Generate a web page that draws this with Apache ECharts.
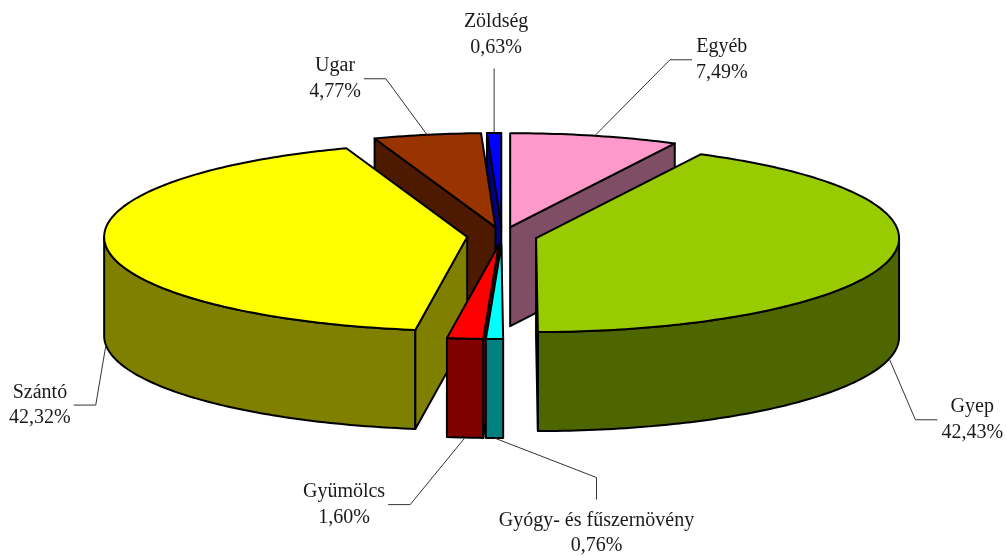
<!DOCTYPE html>
<html><head><meta charset="utf-8">
<script src="https://cdn.jsdelivr.net/npm/echarts@6/dist/echarts.min.js"></script>
<style>html,body{margin:0;padding:0;background:#fff}#c{width:1006px;height:556px}</style>
</head><body><div id="c"></div>
<script>
// ---- data ----
const categories = ['Egyéb', 'Gyep', 'Gyógy- és fűszernövény', 'Gyümölcs', 'Szántó', 'Ugar', 'Zöldség'];
const values = [7.49, 42.43, 0.76, 1.60, 42.32, 4.77, 0.63];

// ---- styles ----
const topColors  = ['#FF99CC', '#99CC00', '#00FFFF', '#FF0000', '#FFFF00', '#993300', '#0000FF'];
const sideColors = ['#804D66', '#4D6600', '#008080', '#800000', '#808000', '#4D1A00', '#000080'];
// label placement relative to the slice's leader anchor (Excel-style dragged labels)
const labelLayout = [
  {side: 'right',  dx: 127, dy: -76},
  {side: 'right',  dx: 83,  dy: 61},
  {side: 'bottom', dx: 102, dy: 95},
  {side: 'left',   dx: -121, dy: 67},
  {side: 'left',   dx: -66, dy: 60},
  {side: 'left',   dx: -92, dy: -56},
  {side: 'top',    dx: 2,   dy: -98}
];
const geo = {cx: 502, cy: 236, rx: 363, ry: 94, depth: 99, explode: 35};
const FONT = '20px "Liberation Serif", "DejaVu Serif", serif';
const LH = 25.5;

const mctx = document.createElement('canvas').getContext('2d');
mctx.font = FONT;
function tw(s) { return mctx.measureText(s).width; }
function fmt(v) { return v.toFixed(2).replace('.', ',') + '%'; }

const total = values.reduce((a, b) => a + b, 0);
const mids = [];
{ let acc = 0; values.forEach(v => { mids.push((acc + v / 2) / total * 2 * Math.PI); acc += v; }); }
const order = mids.map((m, i) => i).sort((a, b) => Math.cos(mids[b]) - Math.cos(mids[a]));
const rank = []; order.forEach((idx, r) => rank[idx] = r);

function renderItem(params, api) {
  const i = params.dataIndex;
  const v = api.value(0);
  let start = 0; for (let k = 0; k < i; k++) start += values[k];
  const a0 = start / total * 2 * Math.PI, a1 = (start + v) / total * 2 * Math.PI;
  const mid = (a0 + a1) / 2;
  const {cx, cy, rx, ry, depth, explode} = geo;
  const kk = ry / rx;
  const px = cx + explode * Math.sin(mid), py = cy - explode * kk * Math.cos(mid);
  const rim = (t, dz) => [px + rx * Math.sin(t), py - ry * Math.cos(t) + dz];
  const arc = (s, e, dz) => {
    const n = Math.max(2, Math.ceil(Math.abs(e - s) / (Math.PI / 180)));
    const pts = [];
    for (let j = 0; j <= n; j++) pts.push(rim(s + (e - s) * j / n, dz));
    return pts;
  };
  const base = rank[i] * 10;
  const edge = {stroke: '#000', lineWidth: 2, lineJoin: 'round'};
  const children = [];
  // front outer wall
  const s = Math.max(a0, Math.PI / 2), e = Math.min(a1, 3 * Math.PI / 2);
  if (s < e) {
    const pts = arc(s, e, 0).concat(arc(e, s, depth));
    children.push({type: 'polygon', z2: base + 1, shape: {points: pts}, style: Object.assign({fill: sideColors[i]}, edge)});
  }
  // radial faces
  const face = (t) => {
    const r0 = rim(t, 0), r1 = rim(t, depth);
    return [[px, py], r0, r1, [px, py + depth]];
  };
  if (Math.sin(a0) < -1e-6) children.push({type: 'polygon', z2: base + 2, shape: {points: face(a0)}, style: Object.assign({fill: sideColors[i]}, edge)});
  if (Math.sin(a1) > 1e-6) children.push({type: 'polygon', z2: base + 2, shape: {points: face(a1)}, style: Object.assign({fill: sideColors[i]}, edge)});
  // top face
  children.push({type: 'polygon', z2: base + 3, shape: {points: [[px, py]].concat(arc(a0, a1, 0))}, style: Object.assign({fill: topColors[i]}, edge)});

  // label + leader
  const anc = rim(mid, Math.cos(mid) < 0 ? depth : 0);
  const L = labelLayout[i];
  const lx = anc[0] + L.dx, ly = anc[1] + L.dy;
  const name = categories[i], pct = fmt(v);
  const w = Math.max(tw(name), tw(pct));
  let pts;
  if (L.side === 'right') { const ex = lx - w / 2 - 4; pts = [anc, [ex - 22, ly], [ex, ly]]; }
  else if (L.side === 'left') { const ex = lx + w / 2 + 3; pts = [anc, [ex + 22, ly], [ex, ly]]; }
  else if (L.side === 'top') { pts = [anc, [anc[0], ly + LH + 8]]; }
  else { pts = [anc, [lx, ly - LH - 30], [lx, ly - LH - 8]]; }
  children.push({type: 'polyline', z2: 1000, shape: {points: pts}, style: {stroke: '#333', lineWidth: 1, fill: null}});
  children.push({type: 'text', z2: 1001, x: lx, y: ly, style: {text: name + '\n' + pct, font: FONT, fill: '#1a1a1a', align: 'center', verticalAlign: 'middle', lineHeight: LH}});
  return {type: 'group', children};
}

const chart = echarts.init(document.getElementById('c'), null, {renderer: 'canvas'});
chart.setOption({
  backgroundColor: '#fff',
  animation: false,
  series: [{
    type: 'custom',
    coordinateSystem: 'none',
    silent: true,
    renderItem,
    data: categories.map((n, i) => ({name: n, value: values[i]}))
  }]
});
</script></body></html>
